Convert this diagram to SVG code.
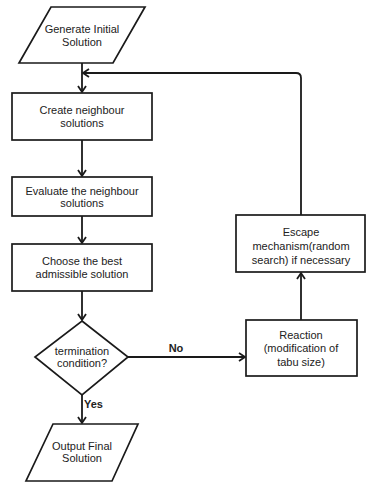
<svg xmlns="http://www.w3.org/2000/svg" width="367" height="483" viewBox="0 0 367 483">
<defs>
<style>
.s{fill:#fff;stroke:#1a1a1a;stroke-width:1.7}
.t{font-family:"Liberation Sans",Arial,sans-serif;font-size:11px;fill:#222;text-anchor:middle}
.b{font-family:"Liberation Sans",Arial,sans-serif;font-size:11px;font-weight:bold;fill:#222}
.c{fill:none;stroke:#1a1a1a;stroke-width:1.8}
</style>
<marker id="a" markerWidth="10" markerHeight="10" refX="8" refY="5" orient="auto" markerUnits="userSpaceOnUse">
<path d="M2,1 L8,5 L2,9" fill="none" stroke="#1a1a1a" stroke-width="1.8"/>
</marker>
</defs>
<rect width="367" height="483" fill="#fff"/>
<g id="connectors">
<path class="c" d="M82,63 V92" marker-end="url(#a)"/>
<path class="c" d="M301,215 V78 Q301,73 296,73 H83" marker-end="url(#a)"/>
<path class="c" d="M82,140 V176" marker-end="url(#a)"/>
<path class="c" d="M82,216 V243" marker-end="url(#a)"/>
<path class="c" d="M82,291 V320" marker-end="url(#a)"/>
<path class="c" d="M82,395 V423" marker-end="url(#a)"/>
<path class="c" d="M128,357 H245" marker-end="url(#a)"/>
<path class="c" d="M301,320 V273" marker-end="url(#a)"/>
<text class="b" x="84" y="408">Yes</text>
<text class="b" x="176" y="352" text-anchor="middle">No</text>
</g>
<g id="start">
<polygon class="s" points="51,7 145,7 113,63 19,63"/>
<text class="t" x="82" y="33">Generate Initial</text>
<text class="t" x="82" y="46">Solution</text>
</g>
<g id="create">
<rect class="s" x="12" y="93" width="140" height="47"/>
<text class="t" x="82" y="114">Create neighbour</text>
<text class="t" x="82" y="127">solutions</text>
</g>
<g id="evaluate">
<rect class="s" x="12" y="177" width="140" height="39"/>
<text class="t" x="82" y="195">Evaluate the neighbour</text>
<text class="t" x="82" y="207">solutions</text>
</g>
<g id="choose">
<rect class="s" x="12" y="244" width="140" height="47"/>
<text class="t" x="82" y="265">Choose the best</text>
<text class="t" x="82" y="278">admissible solution</text>
</g>
<g id="decision">
<polygon class="s" points="82,321 128,357 82,395 35,357"/>
<text class="t" x="82" y="355">termination</text>
<text class="t" x="82" y="367">condition?</text>
</g>
<g id="output">
<polygon class="s" points="53,424 138,424 112,481 26,481"/>
<text class="t" x="82" y="450">Output Final</text>
<text class="t" x="82" y="462">Solution</text>
</g>
<g id="reaction">
<rect class="s" x="246" y="320" width="111" height="56"/>
<text class="t" x="301" y="339">Reaction</text>
<text class="t" x="301" y="352">(modification of</text>
<text class="t" x="301" y="366">tabu size)</text>
</g>
<g id="escape">
<rect class="s" x="236" y="215" width="129" height="57"/>
<text class="t" x="301" y="236">Escape</text>
<text class="t" x="301" y="250">mechanism(random</text>
<text class="t" x="301" y="264">search) if necessary</text>
</g>
</svg>
